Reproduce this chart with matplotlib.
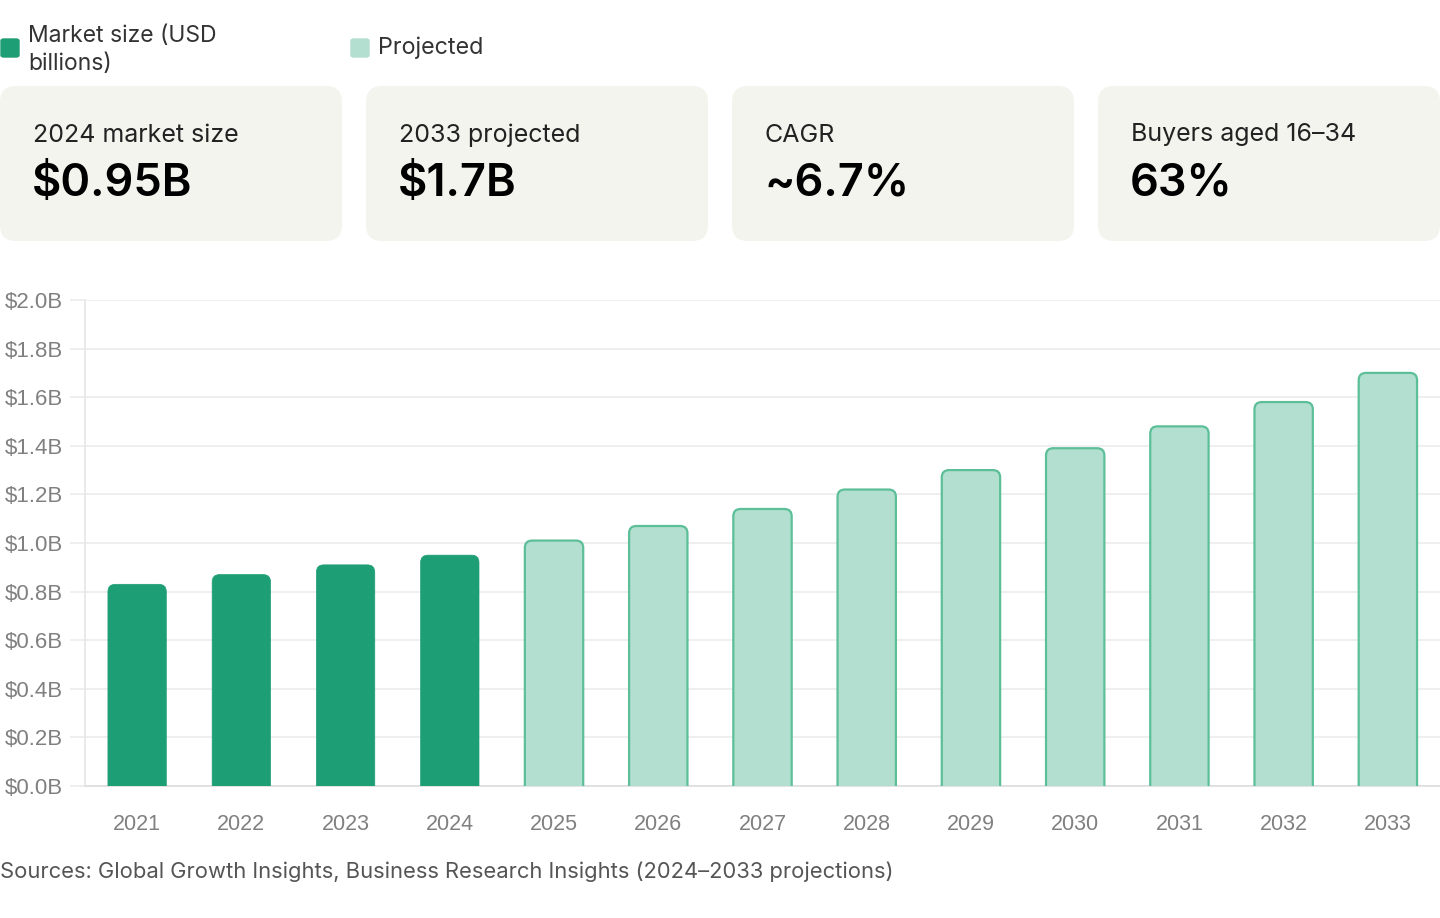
import matplotlib.pyplot as plt
from matplotlib.patches import FancyBboxPatch
import numpy as np

years = ["2021", "2022", "2023", "2024", "2025", "2026", "2027",
         "2028", "2029", "2030", "2031", "2032", "2033"]
market_size = [0.83, 0.87, 0.91, 0.95, 1.01, 1.07, 1.14,
               1.22, 1.30, 1.39, 1.48, 1.58, 1.70]
is_projected = [False, False, False, False, True, True, True,
                True, True, True, True, True, True]

card_titles = ["2024 market size", "2033 projected", "CAGR", "Buyers aged 16\u201334"]
card_values = ["$0.95B", "$1.7B", "~6.7%", "63%"]

legend_labels = ["Market size (USD\nbillions)", "Projected"]
source_text = "Sources: Global Growth Insights, Business Research Insights (2024\u20132033 projections)"

dark_green = "#1e9e74"
light_green = "#b3dfd0"
light_edge = "#5cbf98"
W, H = 1440, 918

fig = plt.figure(figsize=(W / 100, H / 100), dpi=100)
fig.patch.set_facecolor("white")

# legend at the top
fig.patches.append(FancyBboxPatch((1 / W, 1 - 57 / H), 18 / W, 18 / H,
                                  boxstyle="round,pad=0,rounding_size=0.002",
                                  transform=fig.transFigure, color=dark_green))
fig.text(28 / W, 1 - 50 / H, legend_labels[0], fontsize=16.5, family="Inter",
         color="#333333", va="center", linespacing=1.38)
fig.patches.append(FancyBboxPatch((351 / W, 1 - 57 / H), 18 / W, 18 / H,
                                  boxstyle="round,pad=0,rounding_size=0.002",
                                  transform=fig.transFigure, color=light_green))
fig.text(378 / W, 1 - 48 / H, legend_labels[1], fontsize=16.8, family="Inter",
         color="#333333", va="center")

# stat cards
card_x = [0, 366, 732, 1098]
for x0, t, v in zip(card_x, card_titles, card_values):
    fig.patches.append(FancyBboxPatch((x0 / W, 1 - 241 / H), 342 / W, 155 / H,
                                      boxstyle="round,pad=0,rounding_size=0.011",
                                      mutation_aspect=W / H,
                                      transform=fig.transFigure,
                                      facecolor="#f4f4ee", edgecolor="none"))
    fig.text((x0 + 33) / W, 1 - 135 / H, t, fontsize=18, family="Inter",
             color="#222222", va="center")
    fig.text((x0 + 32) / W, 1 - 184 / H, v, fontsize=32.5, family="Inter",
             fontweight="semibold", color="black", va="center")

# bar chart
ax = fig.add_axes([85 / W, 132 / H, 1355 / W, 486 / H])
x = np.arange(len(years))
bw = 0.56
r = 0.07
for xi, val, proj in zip(x, market_size, is_projected):
    if proj:
        fc, ec, lw = light_green, light_edge, 1.6
    else:
        fc, ec, lw = dark_green, dark_green, 0.5
    p = FancyBboxPatch((xi - bw / 2, -0.1), bw, val + 0.1,
                       boxstyle="round,pad=0,rounding_size=%f" % r,
                       mutation_aspect=104 / 243,
                       facecolor=fc, edgecolor=ec, linewidth=lw, zorder=3)
    ax.add_patch(p)

ax.set_xlim(-0.5, len(years) - 0.5)
ax.set_ylim(0, 2.0)
ax.set_yticks(np.arange(0, 2.01, 0.2))
ax.set_yticklabels(["$%.1fB" % t for t in np.arange(0, 2.01, 0.2)])
ax.set_xticks(x)
ax.set_xticklabels(years)
ax.grid(axis="y", color="#ececec", linewidth=1.2, zorder=0)
ax.set_axisbelow(True)
for s in ["top", "right"]:
    ax.spines[s].set_visible(False)
ax.spines["left"].set_color("#e6e6e6")
ax.spines["bottom"].set_color("#dddddd")
ax.spines["left"].set_linewidth(1.2)
ax.spines["bottom"].set_linewidth(1.2)
ax.tick_params(axis="y", length=11, color="#ececec", width=1.2, pad=5,
               labelsize=16, labelcolor="#808080")
ax.tick_params(axis="x", length=0, pad=20, labelsize=15.5, labelcolor="#808080")
for lab in ax.get_xticklabels() + ax.get_yticklabels():
    lab.set_family("Liberation Sans")

fig.text(0, 1 - 872 / H, source_text, fontsize=15.8, family="Inter",
         color="#555555", va="center")

fig.savefig("out.png", dpi=100, facecolor="white")
